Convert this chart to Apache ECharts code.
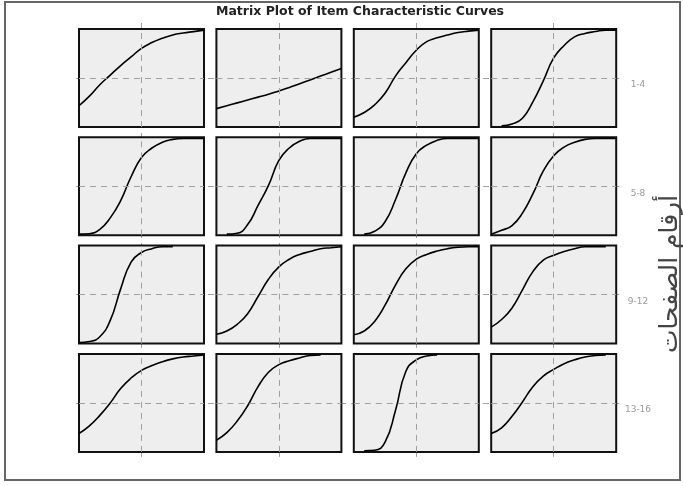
<!DOCTYPE html>
<html lang="en">
<head>
  <meta charset="UTF-8">
  <title>Matrix Plot of Item Characteristic Curves</title>
  <script src="https://cdn.jsdelivr.net/npm/echarts@6/dist/echarts.min.js"></script>
  <style>
    html, body {
      margin: 0;
      padding: 0;
      background: #fff;
    }

    #main {
      width: 683px;
      height: 486px;
    }
  </style>
</head>
<body>
<div id="main"></div>
<script>
  // ability values (x) shared by every panel
  var theta = [-3, -2.5, -2, -1.5, -1, -0.5, 0, 0.5, 1, 1.5, 2, 2.5, 3];

  // probability of a correct answer (null = no line drawn)
  var item1 = [0.21, 0.31, 0.43, 0.53, 0.63, 0.72, 0.81, 0.87, 0.915, 0.95, 0.97, 0.985, 1];
  var item2 = [0.18, 0.21, 0.24, 0.27, 0.30, 0.33, 0.365, 0.40, 0.44, 0.48, 0.52, 0.56, 0.60];
  var item3 = [0.09, 0.14, 0.22, 0.34, 0.52, 0.66, 0.79, 0.88, 0.92, 0.95, 0.975, 0.99, 1];
  var item4 = [null, 0, 0.02, 0.08, 0.25, 0.47, 0.71, 0.84, 0.93, 0.965, 0.985, 1, 1];
  var item5 = [0, 0.005, 0.05, 0.17, 0.35, 0.6, 0.8, 0.9, 0.96, 0.99, 1, 1, 1];
  var item6 = [null, 0, 0.01, 0.1, 0.3, 0.51, 0.77, 0.9, 0.97, 1, 1, 1, 1];
  var item7 = [null, 0, 0.03, 0.13, 0.36, 0.64, 0.84, 0.93, 0.98, 1, 1, 1, 1];
  var item8 = [0, 0.04, 0.09, 0.22, 0.42, 0.66, 0.82, 0.91, 0.96, 0.99, 1, 1, 1];
  var item9 = [0, 0.01, 0.06, 0.23, 0.56, 0.84, 0.94, 0.98, 1, 1, null, null, null];
  var item10 = [0.085, 0.12, 0.19, 0.3, 0.48, 0.66, 0.79, 0.87, 0.92, 0.95, 0.98, 0.99, 1];
  var item11 = [0.08, 0.12, 0.22, 0.39, 0.6, 0.77, 0.87, 0.92, 0.955, 0.98, 0.995, 1, 1];
  var item12 = [0.16, 0.24, 0.36, 0.55, 0.74, 0.86, 0.91, 0.95, 0.98, 1, 1, 1, null];
  var item13 = [0.18, 0.26, 0.37, 0.5, 0.65, 0.76, 0.84, 0.89, 0.93, 0.96, 0.98, 0.99, 1];
  var item14 = [0.11, 0.19, 0.31, 0.47, 0.67, 0.82, 0.9, 0.94, 0.97, 0.995, 1, null, null];
  var item15 = [null, 0, 0.005, 0.09, 0.42, 0.83, 0.95, 0.99, 1, null, null, null, null];
  var item16 = [0.18, 0.24, 0.36, 0.51, 0.67, 0.78, 0.85, 0.91, 0.95, 0.98, 0.995, 1, null];

  var items = [item1, item2, item3, item4, item5, item6, item7, item8,
    item9, item10, item11, item12, item13, item14, item15, item16];

  var rowLabels = ['1-4', '5-8', '9-12', '13-16'];
  var titleText = 'Matrix Plot of Item Characteristic Curves';
  var sideText = 'أرقام الصفحات';

  // panel layout
  var panelLeft = 79, panelTop = 29, panelW = 125, panelH = 98;
  var stepX = 137.4, stepY = 108.3;
  var dash = [6, 5];
  var dashColor = '#a0a0a0';

  var grids = [], xAxes = [], yAxes = [], series = [], graphics = [];

  function hiddenAxis(extra) {
    var a = {
      type: 'value',
      axisLine: {show: false},
      axisTick: {show: false},
      axisLabel: {show: false},
      splitLine: {show: false}
    };
    for (var k in extra) a[k] = extra[k];
    return a;
  }

  // helper grids: dashed lines running across the gaps between panels
  for (var r = 0; r < 4; r++) {
    grids.push({left: panelLeft - 3, top: panelTop + r * stepY, width: 3 * stepX + panelW + 6, height: panelH, z: 0});
    xAxes.push(hiddenAxis({gridIndex: grids.length - 1, min: -3, max: 3, show: false}));
    yAxes.push(hiddenAxis({
      gridIndex: grids.length - 1, min: 0, max: 1, interval: 0.5, z: 0,
      splitLine: {show: true, showMinLine: false, showMaxLine: false, lineStyle: {type: dash, color: dashColor, width: 1}}
    }));
  }
  for (var c = 0; c < 4; c++) {
    grids.push({left: panelLeft + c * stepX, top: panelTop - 6, width: panelW, height: 3 * stepY + panelH + 11, z: 0});
    xAxes.push(hiddenAxis({
      gridIndex: grids.length - 1, min: -3, max: 3, interval: 3, z: 0,
      splitLine: {show: true, showMinLine: false, showMaxLine: false, lineStyle: {type: dash, color: dashColor, width: 1}}
    }));
    yAxes.push(hiddenAxis({gridIndex: grids.length - 1, min: 0, max: 1, show: false}));
  }

  // the 16 panels
  items.forEach(function (vals, i) {
    var row = Math.floor(i / 4), col = i % 4;
    grids.push({
      left: panelLeft + col * stepX,
      top: panelTop + row * stepY,
      width: panelW,
      height: panelH,
      show: true,
      backgroundColor: '#eeeeee',
      borderColor: '#111',
      borderWidth: 2,
      z: 1
    });
    var gi = grids.length - 1;
    xAxes.push(hiddenAxis({gridIndex: gi, min: -3, max: 3}));
    yAxes.push(hiddenAxis({gridIndex: gi, min: -0.012, max: 1.012}));

    var data = [];
    theta.forEach(function (t, j) {
      if (vals[j] !== null) data.push([t, vals[j]]);
    });
    series.push({
      type: 'line',
      xAxisIndex: gi,
      yAxisIndex: gi,
      data: data,
      showSymbol: false,
      smooth: 0.5,
      clip: true,
      z: 3,
      lineStyle: {color: '#000', width: 1.6},
      markLine: {
        silent: true,
        symbol: 'none',
        label: {show: false},
        lineStyle: {type: dash, color: dashColor, width: 1},
        data: [{xAxis: 0}, {yAxis: 0.5}]
      }
    });
  });

  // outer frame
  graphics.push({
    type: 'rect',
    shape: {x: 5, y: 2, width: 675, height: 478},
    style: {fill: null, stroke: '#666', lineWidth: 2},
    silent: true
  });
  graphics.push({
    type: 'text',
    x: 360, y: 12,
    style: {text: titleText, align: 'center', verticalAlign: 'middle', font: 'bold 12.5px "DejaVu Sans"', fill: '#222'},
    silent: true
  });
  rowLabels.forEach(function (lab, r) {
    graphics.push({
      type: 'text',
      x: 638, y: panelTop + r * stepY + panelH / 2 + 7,
      style: {text: lab, align: 'center', verticalAlign: 'middle', font: '9px "DejaVu Sans"', fill: '#999'},
      silent: true
    });
  });
  graphics.push({
    type: 'text',
    x: 670, y: 274,
    rotation: Math.PI / 2,
    style: {text: sideText, align: 'center', verticalAlign: 'middle', font: '25px "DejaVu Sans"', fill: '#444'},
    silent: true
  });

  var myChart = echarts.init(document.getElementById('main'));
  myChart.setOption({
    backgroundColor: '#fff',
    animation: false,
    grid: grids,
    xAxis: xAxes,
    yAxis: yAxes,
    series: series,
    graphic: graphics
  });
</script>
</body>
</html>
